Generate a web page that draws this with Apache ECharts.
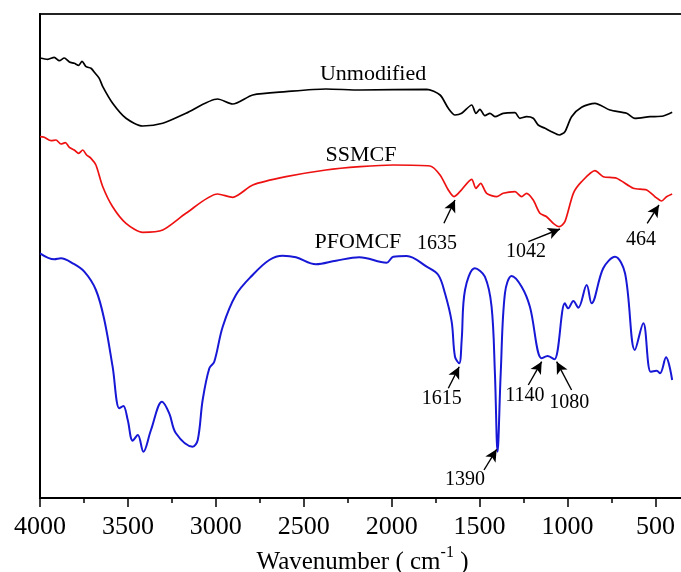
<!DOCTYPE html>
<html>
<head>
<meta charset="utf-8">
<title>FTIR spectra</title>
<script src="https://cdn.jsdelivr.net/npm/echarts@6/dist/echarts.min.js"></script>
<style>
  html, body { margin: 0; padding: 0; background: #fff; }
  #chart { width: 681px; height: 572px; }
</style>
</head>
<body>
<div id="chart"></div>
<script>
// Wavenumber axis (cm-1), drawn high to low
const majorTicks = [500, 1000, 1500, 2000, 2500, 3000, 3500, 4000];
const minorTicks = [750, 1250, 1750, 2250, 2750, 3250, 3750];

// Transmittance traces, arbitrary units, vertically offset: [wavenumber, value]
const unmodified = [
  [4000, 440], [3956, 438.7], [3919, 440.7], [3890, 437.3], [3862, 440], [3833, 436],
  [3805, 434.7], [3780, 432.7], [3761, 436.7], [3738, 431.3], [3710, 429.7], [3686, 424.7],
  [3663, 419.7], [3643, 411.3], [3587, 394.7], [3511, 379.7], [3416, 372], [3302, 374.7],
  [3170, 384.7], [2990, 399], [2904, 394], [2790, 403], [2601, 406.3], [2374, 409],
  [2180, 408], [1801, 408.7], [1725, 403], [1678, 389.7], [1640, 383], [1602, 384.7],
  [1545, 393], [1521, 384.7], [1498, 388.7], [1470, 382.3], [1441, 384.7], [1413, 381.3],
  [1366, 384.7], [1299, 385.3], [1271, 379.7], [1233, 381.3], [1195, 379.7], [1167, 373],
  [1128, 369.7], [1091, 366.3], [1047, 363], [1015, 366.3], [977, 381.3], [920, 390.7],
  [844, 394.7], [759, 388], [664, 384.7], [617, 379.7], [531, 381.3], [456, 382], [405, 385.7]
];

const ssmcf = [
  [4000, 361.3], [3976, 360.7], [3937, 357.3], [3909, 358], [3881, 354], [3856, 355.3],
  [3833, 350.7], [3805, 348], [3780, 344.7], [3757, 348], [3735, 343], [3710, 339.7],
  [3682, 333], [3643, 311.3], [3587, 291.3], [3511, 274.7], [3416, 265.7], [3302, 268],
  [3170, 284.7], [2990, 304], [2904, 300.7], [2790, 313], [2601, 321.3], [2374, 328],
  [2180, 331.3], [1991, 333], [1782, 332], [1725, 323], [1678, 308], [1646, 301.3],
  [1612, 306.3], [1545, 318.7], [1521, 309.7], [1494, 314.7], [1460, 304.7], [1403, 301.3],
  [1366, 304.7], [1299, 306.3], [1261, 301.3], [1233, 304.7], [1195, 298], [1157, 284.7],
  [1119, 281.3], [1081, 274.7], [1047, 271.3], [1015, 276.3], [967, 304.7], [920, 316.3],
  [844, 327.3], [797, 321.3], [721, 319.7], [626, 309.7], [550, 308], [503, 301.3],
  [465, 297], [437, 301.3], [405, 304]
];

const pfomcf = [
  [4000, 244.7], [3919, 238.7], [3881, 239.7], [3814, 234.7], [3748, 226.3], [3682, 208],
  [3634, 178], [3587, 131.3], [3549, 89.7], [3526, 92], [3501, 78], [3473, 57.3],
  [3444, 63], [3412, 46.3], [3369, 68], [3306, 96.3], [3265, 84.7], [3227, 64.7],
  [3132, 51.3], [3103, 58], [3075, 98], [3037, 129.7], [3009, 136.3], [2961, 171.3],
  [2886, 203], [2791, 223], [2696, 238], [2620, 242.3], [2544, 240.7], [2431, 233.7],
  [2317, 237.3], [2184, 240.7], [2029, 235.3], [1991, 241.3], [1915, 242], [1801, 231.3],
  [1735, 223], [1697, 204.7], [1659, 176.3], [1640, 141.3], [1616, 134.7], [1602, 158],
  [1583, 208], [1527, 229.7], [1470, 221.3], [1432, 191.3], [1413, 124.7], [1398, 46.3],
  [1380, 124.7], [1356, 204.7], [1318, 222], [1261, 211.3], [1214, 191.3], [1147, 139.7],
  [1113, 142], [1075, 138.7], [1015, 194.7], [996, 189.7], [967, 197], [939, 190.3],
  [891, 213], [863, 194.7], [797, 229.7], [730, 241.3], [673, 224.7], [617, 148],
  [569, 174.7], [527, 126.3], [493, 127.3], [474, 124.7], [440, 140.7], [405, 118]
];

const seriesNames = ['Unmodified', 'SSMCF', 'PFOMCF'];
const peakNames = ['1635', '1042', '464', '1615', '1390', '1140', '1080'];

// Where each trace name sits, in data coordinates
const nameAnchors = [[2106, 424], [2175, 343], [2192, 255.5]];

// Peak callouts: text anchor, arrow tail, arrow tip (data coordinates)
const calloutLayout = [
  { label: [1743, 254],  from: [1703, 274.7], to: [1640, 298] },
  { label: [1236, 246],  from: [1223, 256.3], to: [1043, 269] },
  { label: [582, 258],   from: [547, 274.7],  to: [480, 293] },
  { label: [1716, 99],   from: [1678, 109.7], to: [1616, 131.3] },
  { label: [1583, 18],   from: [1475, 28],    to: [1403, 48.7] },
  { label: [1242, 102.5], from: [1223, 113],  to: [1147, 136.3] },
  { label: [990, 95.5],  from: [977, 108],    to: [1062, 136.3] }
];

const serif = "'Liberation Serif', 'Times New Roman', 'DejaVu Serif', serif";

const textPoints = seriesNames.map((n, i) => ({
  name: n, value: nameAnchors[i], label: { fontSize: 22 }
})).concat(peakNames.map((n, i) => ({
  name: n, value: calloutLayout[i].label, label: { fontSize: 20 }
})));

const arrows = calloutLayout.map(c => [{ coord: c.from }, { coord: c.to }]);

// The plotted range runs slightly past the visible right edge
const axisLow = 332;
const axisHigh = 4000;

const chart = echarts.init(document.getElementById('chart'), null, { renderer: 'canvas' });

chart.setOption({
  animation: false,
  backgroundColor: '#fff',
  grid: {
    left: 40, right: -4, top: 14, bottom: 74,
    outerBoundsMode: 'none', containLabel: false,
    show: true, borderColor: '#222', borderWidth: 2, backgroundColor: 'transparent'
  },
  xAxis: [
    {
      type: 'value', inverse: true, min: axisLow, max: axisHigh,
      name: '{t|Wavenumber ( cm}{s|-1}{t| )}',
      nameLocation: 'middle', nameGap: 44,
      nameTextStyle: {
        rich: {
          t: { fontFamily: serif, fontSize: 25, color: '#000', verticalAlign: 'bottom', lineHeight: 30 },
          s: { fontFamily: serif, fontSize: 16, color: '#000', verticalAlign: 'top', lineHeight: 30 }
        }
      },
      axisLine: { show: true, lineStyle: { color: '#000', width: 2 } },
      axisTick: { show: true, inside: false, length: 9, lineStyle: { color: '#000', width: 1.5 }, customValues: majorTicks },
      axisLabel: {
        show: true, margin: 16, fontFamily: serif, fontSize: 26, color: '#000',
        customValues: majorTicks, formatter: v => String(v)
      },
      splitLine: { show: false }
    },
    {
      type: 'value', inverse: true, min: axisLow, max: axisHigh, position: 'bottom',
      axisLine: { show: false },
      axisTick: { show: true, inside: false, length: 5, lineStyle: { color: '#000', width: 1.5 }, customValues: minorTicks },
      axisLabel: { show: false },
      splitLine: { show: false }
    }
  ],
  yAxis: {
    type: 'value', min: 0, max: 484,
    axisLine: { show: true, lineStyle: { color: '#000', width: 2 } },
    axisTick: { show: false }, axisLabel: { show: false }, splitLine: { show: false }
  },
  series: [
    {
      name: seriesNames[0], type: 'line', data: unmodified, showSymbol: false, smooth: 0.25,
      lineStyle: { color: '#000', width: 1.7 }, silent: true
    },
    {
      name: seriesNames[1], type: 'line', data: ssmcf, showSymbol: false, smooth: 0.25,
      lineStyle: { color: '#ee1111', width: 1.7 }, silent: true
    },
    {
      name: seriesNames[2], type: 'line', data: pfomcf, showSymbol: false, smooth: 0.35,
      lineStyle: { color: '#1717d6', width: 2 }, silent: true
    },
    {
      type: 'scatter', data: textPoints, symbolSize: 0, silent: true,
      itemStyle: { opacity: 1 },
      label: { show: true, position: 'inside', formatter: '{b}', fontFamily: serif, color: '#000', opacity: 1 },
      markLine: {
        silent: true, symbol: ['none', 'arrow'], symbolSize: [9, 12], precision: 1,
        label: { show: false },
        lineStyle: { color: '#000', width: 1.4, type: 'solid', opacity: 1 },
        data: arrows
      }
    }
  ]
});
</script>
</body>
</html>
